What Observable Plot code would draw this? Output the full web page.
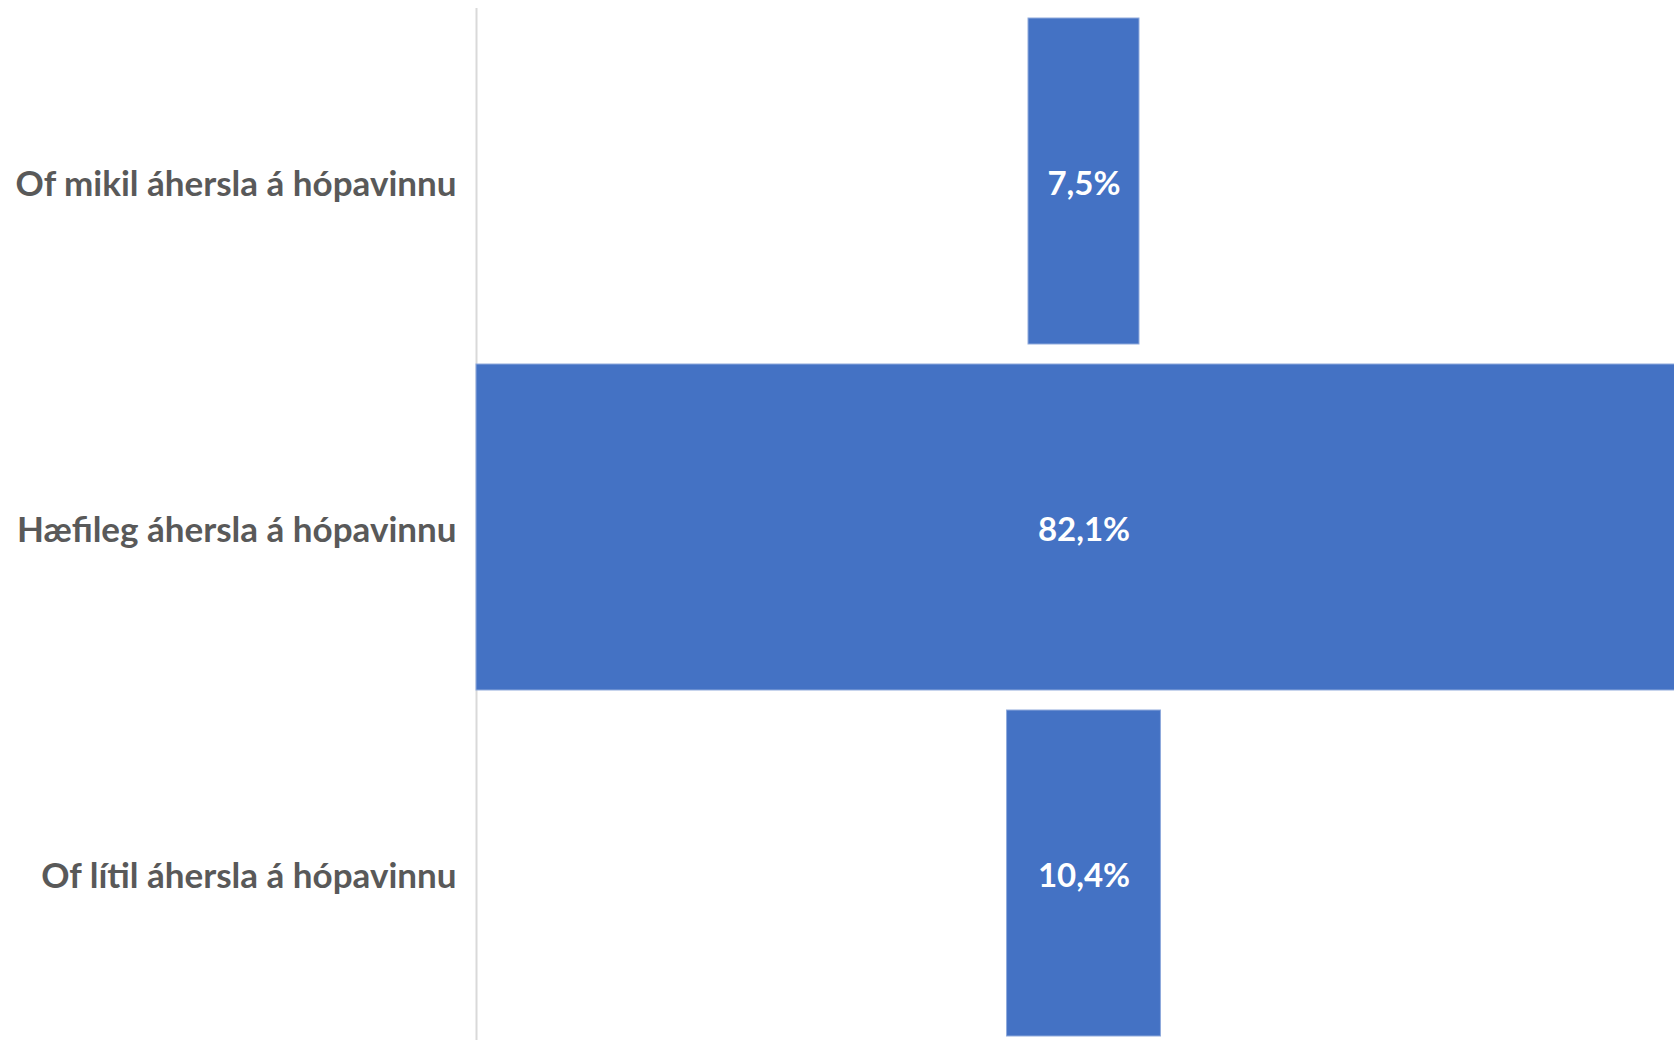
<!DOCTYPE html>
<html>
<head>
<meta charset="utf-8">
<script src="https://cdn.jsdelivr.net/npm/d3@7"></script>
<script src="https://cdn.jsdelivr.net/npm/@observablehq/plot@0.6"></script>
<style>
  html, body { margin: 0; padding: 0; background: #ffffff; overflow: hidden; }
  #chart svg { display: block; }
</style>
</head>
<body>
<div id="chart"></div>
<script>
const categories = [
  "Of mikil áhersla á hópavinnu",
  "Hæfileg áhersla á hópavinnu",
  "Of lítil áhersla á hópavinnu"
];
const values = [7.5, 82.1, 10.4];

const data = categories.map((c, i) => ({category: c, value: values[i]}));
const half = d3.max(values) / 2;
const fmt = v => v.toFixed(1).replace(".", ",") + "%";

const font = "Lato, 'Open Sans', sans-serif";

const chart = Plot.plot({
  width: 1674,
  height: 1040,
  marginLeft: 476,
  marginRight: 0,
  marginTop: 8,
  marginBottom: 0,
  style: {fontFamily: font, background: "#ffffff"},
  x: {domain: [-half, half], range: [476, 1691], axis: null},
  y: {domain: categories, range: [8, 1046], paddingInner: 0.058, paddingOuter: 0.029, label: null},
  marks: [
    Plot.ruleX([-half], {stroke: "#d9d9d9", strokeWidth: 2}),
    Plot.barX(data, {
      y: "category",
      x1: d => -d.value / 2,
      x2: d => d.value / 2,
      fill: "#4472C4",
      stroke: "#8faadc",
      strokeWidth: 1
    }),
    Plot.text(data, {
      y: "category",
      x: () => 0,
      dy: 3,
      text: d => fmt(d.value),
      fill: "#ffffff",
      fontSize: 33,
      fontWeight: "bold"
    }),
    Plot.axisY({
      tickSize: 0,
      tickPadding: 20,
      dy: 3,
      fontSize: 35,
      fontWeight: "bold",
      color: "#595959",
      label: null
    })
  ]
});
document.getElementById("chart").appendChild(chart);
</script>
</body>
</html>
